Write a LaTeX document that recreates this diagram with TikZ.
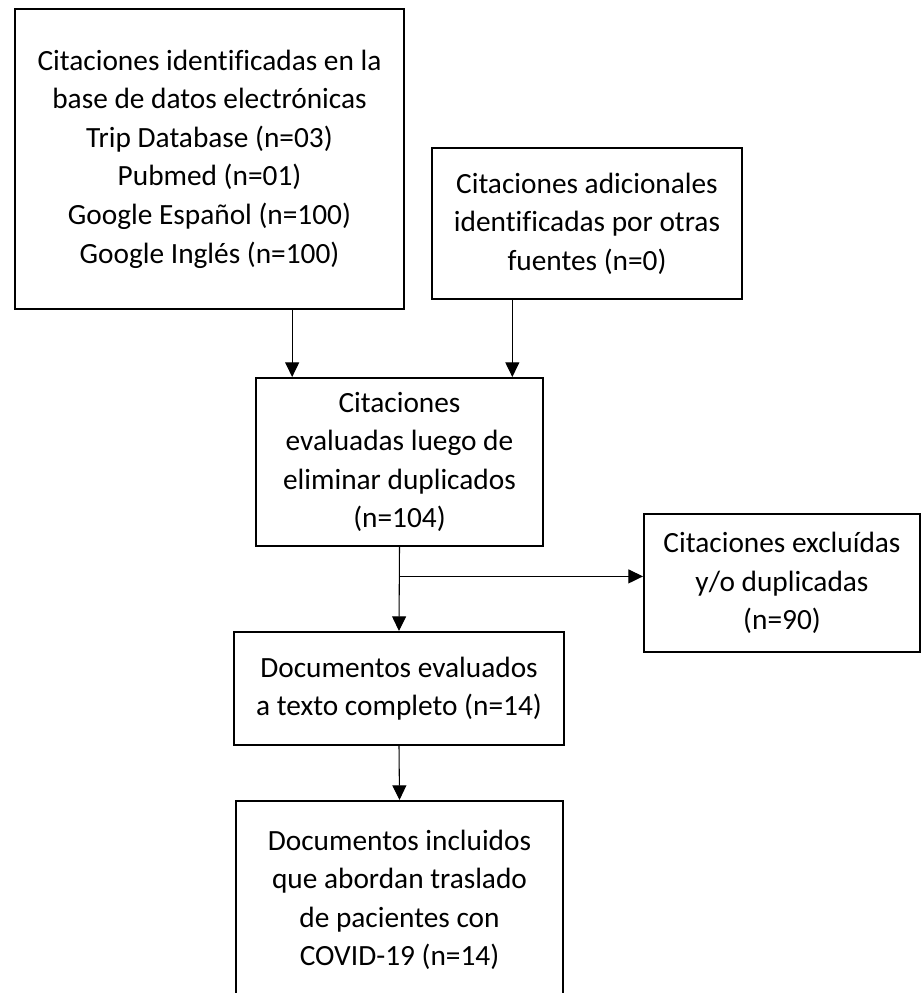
\documentclass[tikz,border=0pt]{standalone}
\usepackage{fontspec}
\setmainfont{Carlito}[Ligatures=CommonOff]
\usetikzlibrary{arrows.meta,calc}
\begin{document}
\begin{tikzpicture}[
        x                       = 0.75pt,
        y                       = -0.75pt,
        caja/.style             = {draw, black, line width=1.5pt, align=center, inner sep=0pt,
                                   font=\fontsize{22}{28.9}\selectfont},
        flecha/.style           = {draw, line width=0.8pt, -{Triangle[length=11pt, width=10.5pt]}},
        %sloped
      ]
        \clip (0,0) rectangle (921,993);
        % cajas
        \node[caja, minimum width=291.75pt, minimum height=225pt] (bases) at (209.5,159)
            {Citaciones identificadas en la\\base de datos electrónicas\\Trip Database (n=03)\\Pubmed (n=01)\\Google Español (n=100)\\Google Inglés (n=100)};
        \node[caja, minimum width=232.5pt, minimum height=113.25pt] (otras) at (587,223.5)
            {Citaciones adicionales\\identificadas por otras\\fuentes (n=0)};
        \node[caja, minimum width=215.25pt, minimum height=126pt] (evaluadas) at (399.5,462)
            {Citaciones\\evaluadas luego de\\eliminar duplicados\\(n=104)};
        \node[caja, minimum width=207pt, minimum height=103.5pt] (excluidas) at (782,583)
            {Citaciones excluídas\\y/o duplicadas\\(n=90)};
        \node[caja, minimum width=247.5pt, minimum height=84.75pt] (completo) at (399,688.5)
            {Documentos evaluados\\a texto completo (n=14)};
        \node[caja, minimum width=245.25pt, minimum height=148.5pt] (incluidos) at (399.5,900)
            {Documentos incluidos\\que abordan traslado\\de pacientes con\\COVID-19 (n=14)};
        % flechas
        \coordinate (desde bases) at ([xshift=62pt]bases.south);
        \coordinate (desde otras) at ([xshift=-56pt]otras.south);
        \coordinate (rama) at ($(evaluadas.south)!0.35!(completo.north)$);
        \draw[flecha] (desde bases) -- (desde bases |- evaluadas.north);
        \draw[flecha] (desde otras) -- (desde otras |- evaluadas.north);
        \draw[flecha] (evaluadas.south) -- (completo.north);
        \draw[flecha] (rama) -- (rama -| excluidas.west);
        \draw[flecha] (completo.south) -- (incluidos.north);
    \end{tikzpicture}
\end{document}
